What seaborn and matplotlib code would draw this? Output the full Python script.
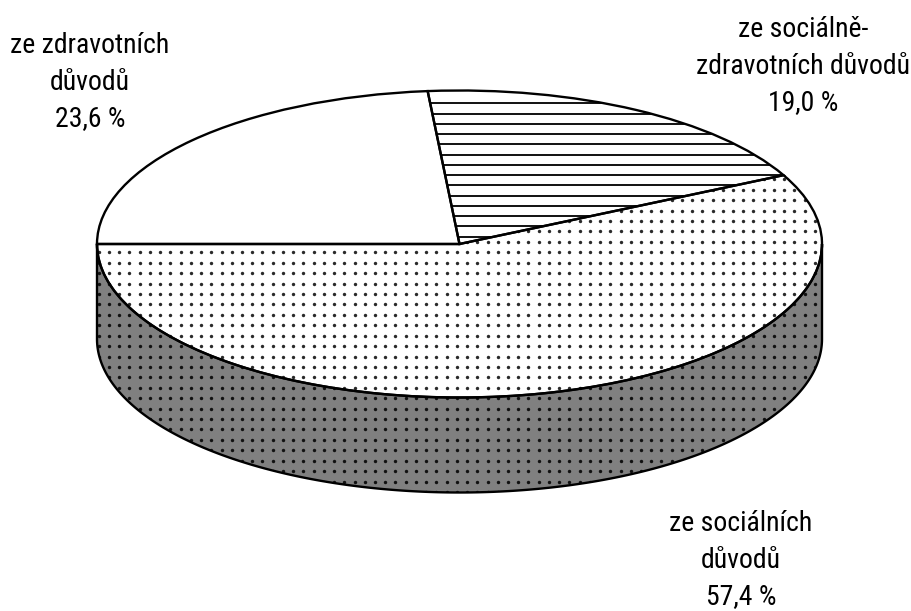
import numpy as np
import matplotlib
matplotlib.use("Agg")
import matplotlib.pyplot as plt
from matplotlib import font_manager as fm
from matplotlib.patches import Polygon
import seaborn as sns

# Shares of the three groups (percent)
categories = ["ze zdravotních\ndůvodů",
              "ze sociálně-\nzdravotních důvodů",
              "ze sociálních\ndůvodů"]
shares = [23.6, 19.0, 57.4]

sns.set_theme(style="white")

# Narrow sans-serif for the labels, with a plain fallback at a smaller size
_installed = {f.name for f in fm.fontManager.ttflist}
if "Roboto Condensed" in _installed:
    LABEL_FAMILY, LABEL_SIZE = ["Roboto Condensed", "DejaVu Sans"], 20
else:
    LABEL_FAMILY, LABEL_SIZE = ["Liberation Sans", "DejaVu Sans"], 17
plt.rcParams["font.family"] = LABEL_FAMILY

W, H = 912, 611
fig = plt.figure(figsize=(W / 100, H / 100), dpi=100)
ax = fig.add_axes([0, 0, 1, 1])

# Geometry of the tilted disc (pixels)
CX, CY = 459.5, 244.0      # centre of the top face
RX, RY = 362.5, 153.5      # semi-axes of the top face
DEPTH = 95.0 / RY          # thickness of the disc in data units


def to_data(px, py):
    return (np.asarray(px) - CX) / RX, (CY - np.asarray(py)) / RY


# Top face: filled wedges
wedges, _ = ax.pie(shares, startangle=180, counterclock=False, radius=1,
                   colors=["white"] * len(shares),
                   wedgeprops=dict(linewidth=0, edgecolor="none"))
for w in wedges:
    w.set_zorder(1)

# Front wall of the disc (only the large slice faces the viewer)
t = np.linspace(np.pi, 2 * np.pi, 500)
top = np.column_stack([np.cos(t), np.sin(t)])
bottom = np.column_stack([np.cos(t[::-1]), np.sin(t[::-1]) - DEPTH])
wall_xy = np.vstack([top, bottom])
wall = Polygon(wall_xy, closed=True, facecolor="#808080", edgecolor="none", zorder=0.5)
ax.add_patch(wall)

# Dotted fill pattern
gx = np.arange(109.0 - 10.23 * 3, 845, 10.23)
gy = np.arange(252.3 - 10.42 * 17, 505, 10.42)
GX, GY = np.meshgrid(gx, gy)
DX, DY = to_data(GX.ravel(), GY.ravel())

dots_wall = ax.scatter(DX, DY, s=6, color="#111111", linewidths=0, zorder=0.6)
dots_wall.set_clip_path(wall)
dots_top = ax.scatter(DX, DY, s=6, color="#2a2a2a", linewidths=0, zorder=2)
dots_top.set_clip_path(wedges[2])

# Horizontal stripes on the middle slice
ys_px = np.arange(103.3, 250, 10.26)
_, ys = to_data(np.zeros_like(ys_px), ys_px)
stripes = ax.hlines(ys, -1.05, 1.05, colors="#111111", linewidth=1.4, zorder=2)
stripes.set_clip_path(wedges[1])

# Outlines on top of the fills
outline, _ = ax.pie(shares, startangle=180, counterclock=False, radius=1,
                    wedgeprops=dict(fill=False, edgecolor="black", linewidth=1.7))
for w in outline:
    w.set_zorder(3)
ax.add_patch(Polygon(wall_xy, closed=True, fill=False, edgecolor="black",
                     linewidth=1.7, zorder=3))

ax.set_aspect("auto")
ax.set_xlim(-CX / RX, (W - CX) / RX)
ax.set_ylim((CY - H) / RY, CY / RY)
ax.axis("off")

# Slice labels: category lines followed by the share
label_anchor = [(90, 53), (803, 37), (741, 531)]
LINE_STEP = 36.5
for cat, val, (lx, ly) in zip(categories, shares, label_anchor):
    lines = cat.split("\n") + [f"{val:.1f} %".replace(".", ",")]
    for i, line in enumerate(lines):
        fig.text(lx / W, 1 - (ly + i * LINE_STEP) / H, line,
                 ha="center", va="baseline", fontsize=LABEL_SIZE,
                 family=LABEL_FAMILY, fontweight="normal", color="black")

fig.savefig("out.png", dpi=100, facecolor="white")
